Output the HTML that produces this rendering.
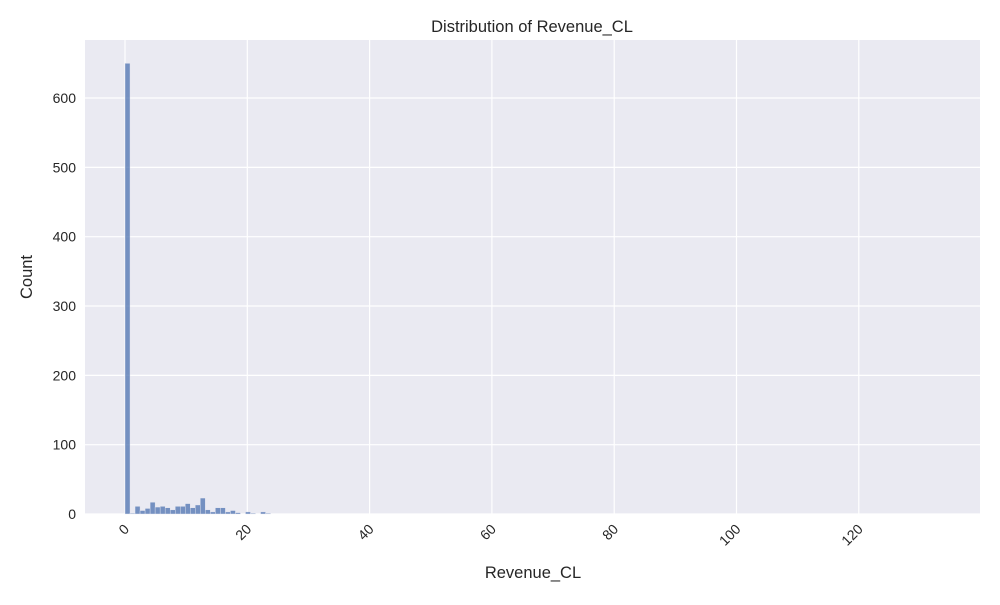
<!DOCTYPE html>
<html><head><meta charset="utf-8"><style>
body{margin:0;background:#fff;}
svg text{font-family:"Liberation Sans","DejaVu Sans",sans-serif;fill:#262626;}
</style></head><body>
<svg id="chart" width="1000" height="600">
<rect x="85" y="40" width="895" height="474" fill="#eaeaf2"/>
<g id="grid"></g><g id="bars"></g><g id="ticks"></g>
<text x="532" y="32" text-anchor="middle" font-size="16.5">Distribution of Revenue_CL</text>
<text x="533" y="578" text-anchor="middle" font-size="16.5">Revenue_CL</text>
<text x="32" y="277" text-anchor="middle" font-size="16.5" transform="rotate(-90 32 277)">Count</text>
</svg>
<script>
const counts=[650,1,11,5,8,17,10,11,9,6,11,11,15,9,13,23,6,3,9,9,3,5,2,0,3,1,0,3,1];
const binStart=0;
const binWidth=0.821;
const xTicks=[0,20,40,60,80,100,120];
const yTicks=[0,100,200,300,400,500,600];
const NS="http://www.w3.org/2000/svg";
const x=v=>125+v*6.115;
const y=v=>514-v*0.6933;
function el(t,a,p){const e=document.createElementNS(NS,t);for(const k in a)e.setAttribute(k,a[k]);document.getElementById(p).appendChild(e);return e;}
xTicks.forEach(t=>{
 const g=el('line',{x1:x(t),x2:x(t),y1:40,y2:514,stroke:'#fff','stroke-width':1.2},'grid');
 
 
 const tx=el('text',{x:x(t)+5,y:530,'font-size':14,'text-anchor':'end',transform:`rotate(-45 ${x(t)+5} 530)`},'ticks');
 tx.textContent=t;
 
 
});
yTicks.forEach(t=>{
 const g=el('line',{x1:85,x2:980,y1:y(t),y2:y(t),stroke:'#fff','stroke-width':1.2},'grid');
 
 
 const tx=el('text',{x:76,y:y(t)+5,'font-size':14,'text-anchor':'end'},'ticks');
 tx.textContent=t;
 
 
});
counts.forEach((c,i)=>{
 if(!c)return;
 const x0=x(binStart+i*binWidth),x1=x(binStart+(i+1)*binWidth);
 const r=el('rect',{x:x0,y:y(c),width:x1-x0,height:514-y(c),fill:'#4c72b0','fill-opacity':0.75,stroke:'#eaeaf2','stroke-width':0.4},'bars');
 
 
});
</script>
</body></html>
